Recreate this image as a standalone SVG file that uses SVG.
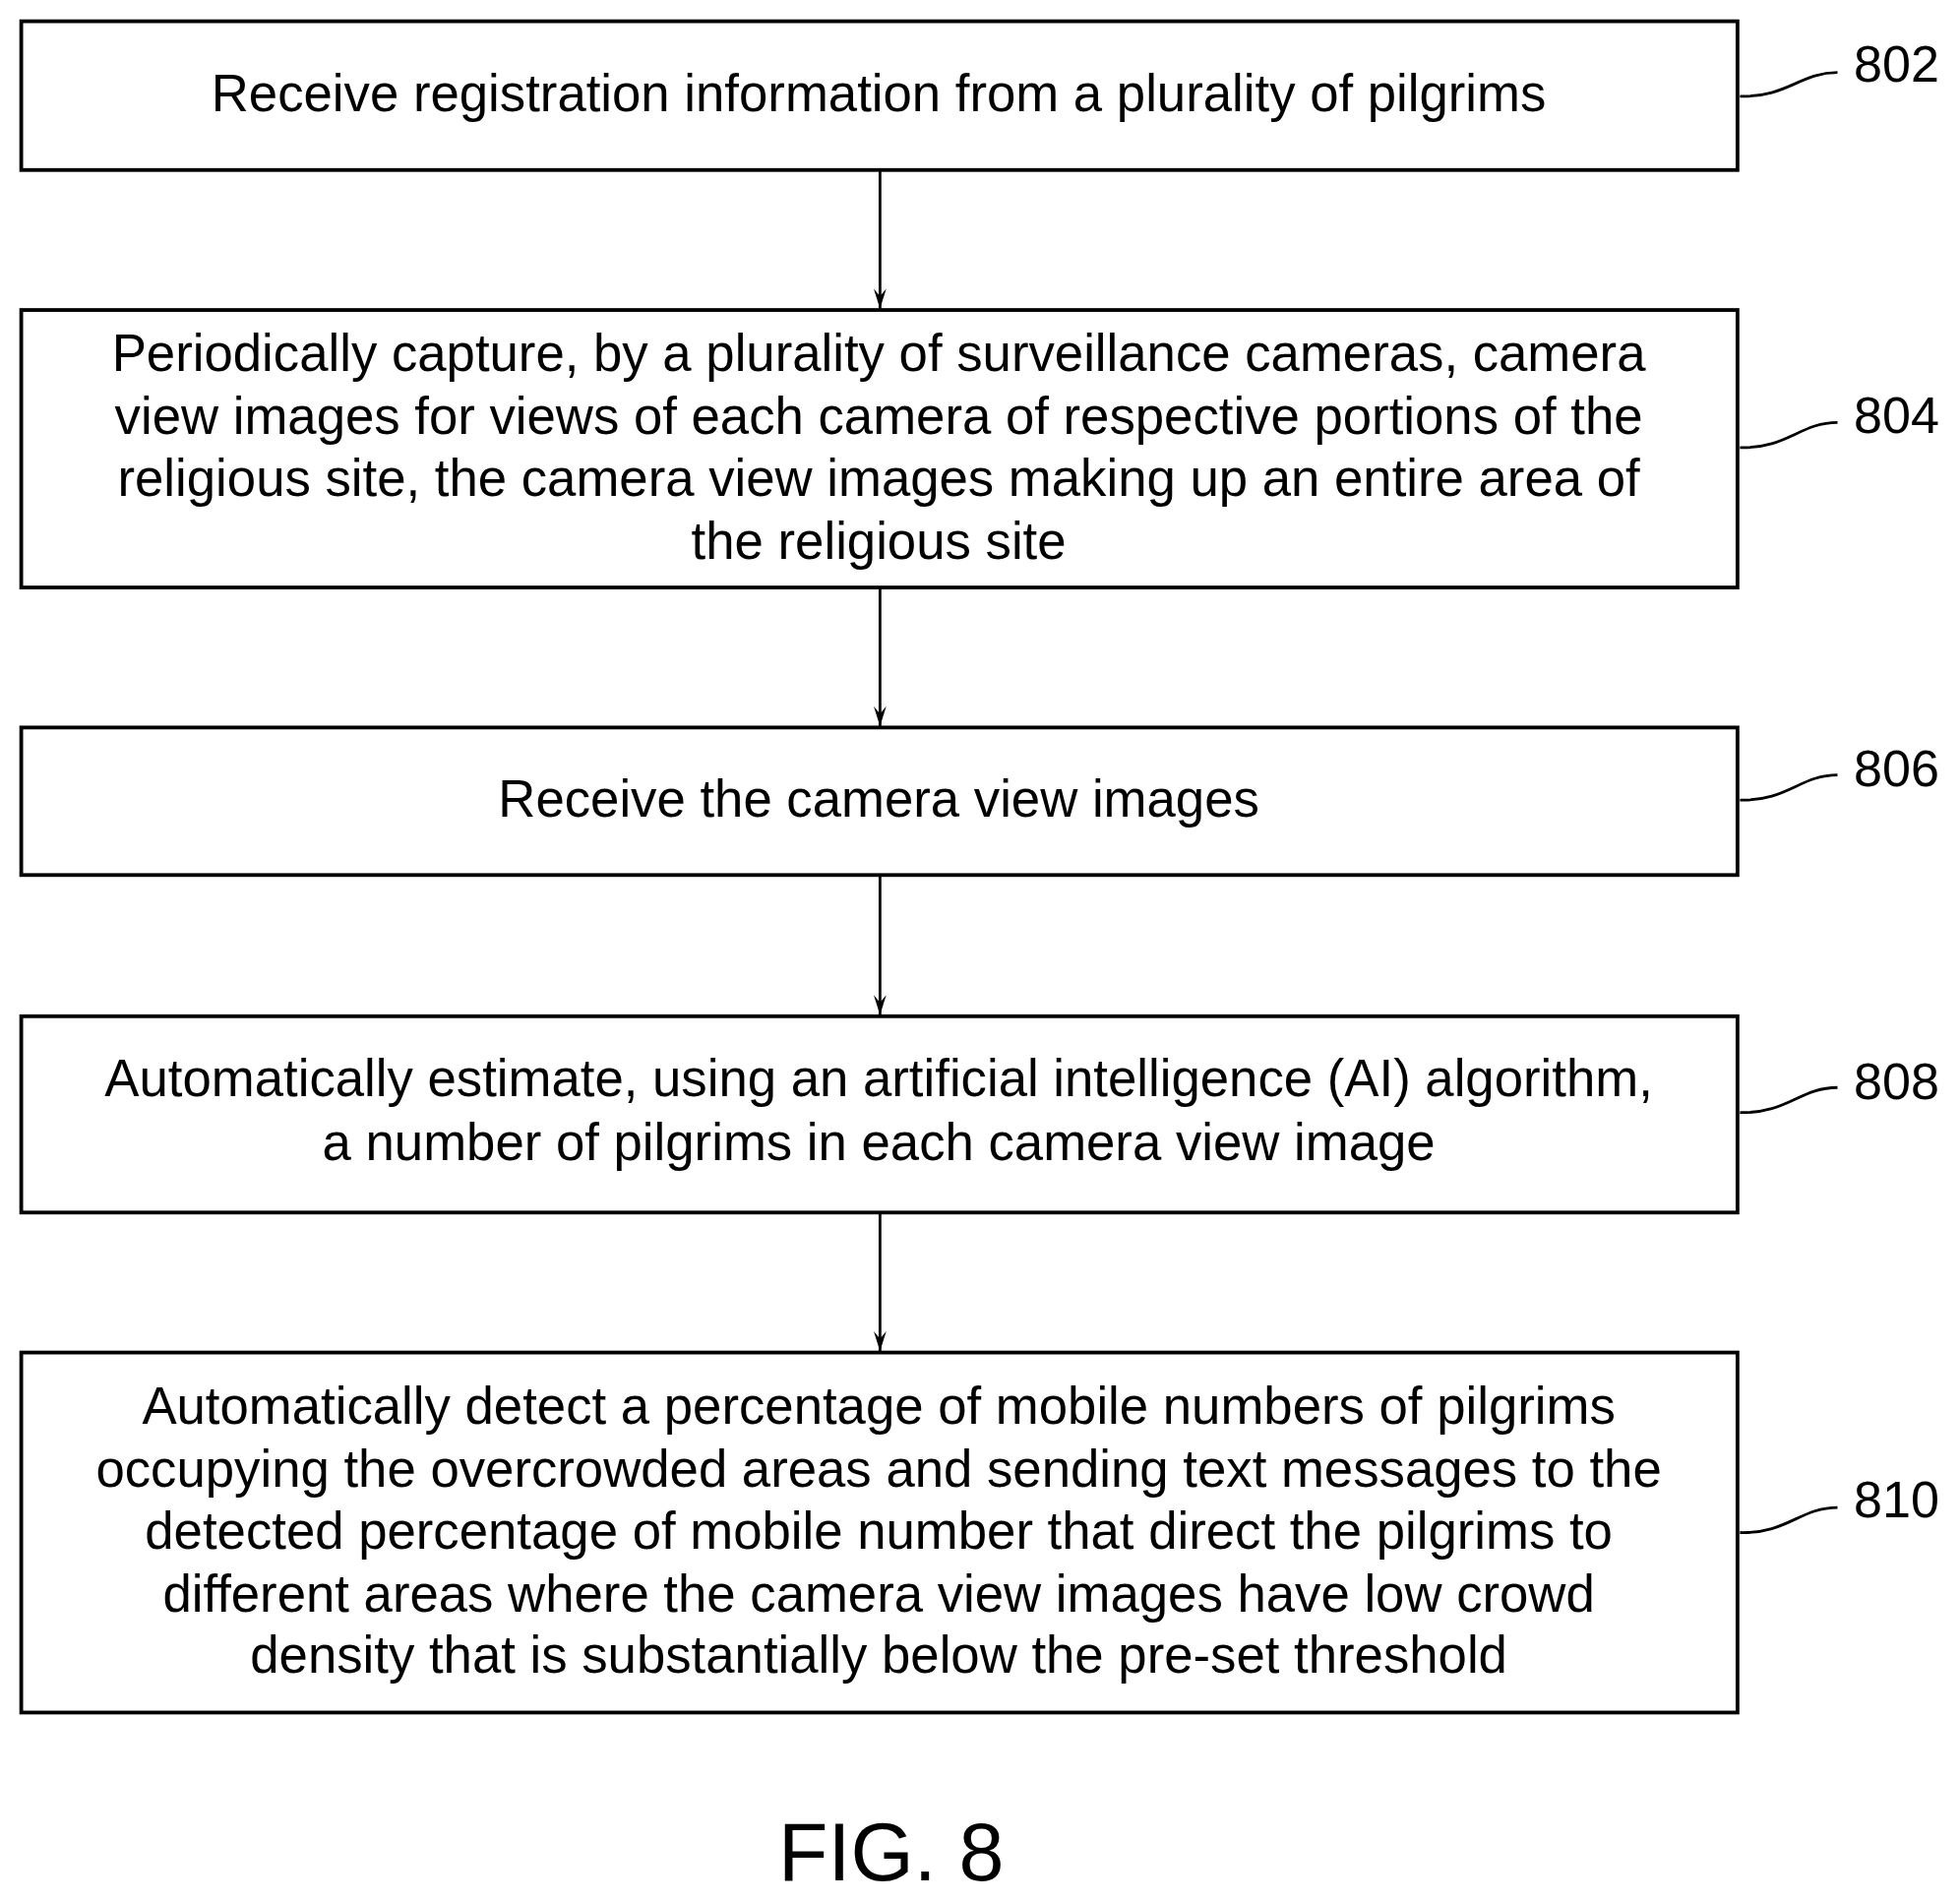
<svg xmlns="http://www.w3.org/2000/svg" width="1992" height="1933" viewBox="0 0 1992 1933">
<style>
.box{fill:#fff;stroke:#000;stroke-width:3}
.t{font-family:"Liberation Sans",Arial,sans-serif;font-size:41.5px;text-anchor:middle;fill:#000}
.lb{font-family:"Liberation Sans",Arial,sans-serif;font-size:41px;fill:#000}
.c{fill:none;stroke:#000;stroke-width:2.2}
</style>
<defs><marker id="a" markerWidth="16" markerHeight="10" refX="16" refY="5" orient="auto" markerUnits="userSpaceOnUse" viewBox="0 0 16 10"><path d="M0,0 L16,5 L0,10 L6,5 Z" fill="#000"/></marker></defs>
<rect width="1992" height="1933" fill="#fff"/>
<g transform="scale(1.2704)">
<g id="connectors">
<line class="c" x1="704" y1="137" x2="704" y2="247" marker-end="url(#a)"/>
<line class="c" x1="704" y1="471" x2="704" y2="581" marker-end="url(#a)"/>
<line class="c" x1="704" y1="701" x2="704" y2="812" marker-end="url(#a)"/>
<line class="c" x1="704" y1="971" x2="704" y2="1081" marker-end="url(#a)"/>
<path class="c" d="M1392,77 C1430,78 1440,58 1470,58"/>
<path class="c" d="M1392,358 C1430,359 1440,338 1470,338"/>
<path class="c" d="M1392,640 C1430,641 1440,620 1470,620"/>
<path class="c" d="M1392,890 C1430,891 1440,870 1470,870"/>
<path class="c" d="M1392,1226 C1430,1227 1440,1206 1470,1206"/>
</g>
<g id="n802"><rect class="box" x="17" y="17" width="1373" height="119"/><text class="t" x="703" y="89">Receive registration information from a plurality of pilgrims</text><text class="lb" x="1483" y="65">802</text></g>
<g id="n804"><rect class="box" x="17" y="248" width="1373" height="222"/>
<text class="t" x="703" y="297">Periodically capture, by a plurality of surveillance cameras, camera</text>
<text class="t" x="703" y="347">view images for views of each camera of respective portions of the</text>
<text class="t" x="703" y="397">religious site, the camera view images making up an entire area of</text>
<text class="t" x="703" y="447">the religious site</text><text class="lb" x="1483" y="346">804</text></g>
<g id="n806"><rect class="box" x="17" y="582" width="1373" height="118"/><text class="t" x="703" y="653">Receive the camera view images</text><text class="lb" x="1483" y="629">806</text></g>
<g id="n808"><rect class="box" x="17" y="813" width="1373" height="157"/>
<text class="t" x="703" y="877">Automatically estimate, using an artificial intelligence (AI) algorithm,</text>
<text class="t" x="703" y="928">a number of pilgrims in each camera view image</text><text class="lb" x="1483" y="879">808</text></g>
<g id="n810"><rect class="box" x="17" y="1082" width="1373" height="288"/>
<text class="t" x="703" y="1139">Automatically detect a percentage of mobile numbers of pilgrims</text>
<text class="t" x="703" y="1189">occupying the overcrowded areas and sending text messages to the</text>
<text class="t" x="703" y="1239">detected percentage of mobile number that direct the pilgrims to</text>
<text class="t" x="703" y="1289">different areas where the camera view images have low crowd</text>
<text class="t" x="703" y="1338">density that is substantially below the pre-set threshold</text><text class="lb" x="1483" y="1214">810</text></g>
<text class="t" x="713" y="1504" style="font-size:65px">FIG. 8</text>
</g>
</svg>
